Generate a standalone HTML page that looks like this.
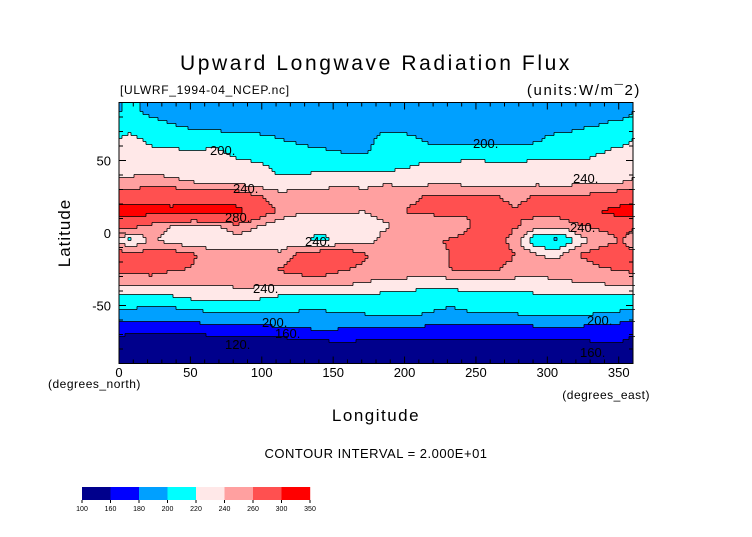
<!DOCTYPE html>
<html><head><meta charset="utf-8"><style>
body{margin:0;background:#fff;width:752px;height:532px;overflow:hidden;font-family:"Liberation Sans",sans-serif}
svg text{font-family:"Liberation Sans",sans-serif;fill:#000}
</style></head><body>
<svg id="chart" width="752" height="532" xmlns="http://www.w3.org/2000/svg">
<text x="376" y="70" font-size="21" text-anchor="middle" letter-spacing="2.6" font-weight="300">Upward Longwave Radiation Flux</text>
<text x="120" y="94" font-size="12" letter-spacing="0.7">[ULWRF_1994-04_NCEP.nc]</text>
<text x="641" y="95" font-size="15" text-anchor="end" letter-spacing="1.6">(units:W/m¯2)</text>
<g id="map"></g>
<g id="lines"></g>
<g id="axes"></g>
<text x="70" y="233" font-size="17" text-anchor="middle" transform="rotate(-90 70 233)" letter-spacing="1">Latitude</text>
<text x="48" y="388" font-size="12" letter-spacing="0.5">(degrees_north)</text>
<text x="376" y="421" font-size="17" text-anchor="middle" letter-spacing="1.5">Longitude</text>
<text x="650" y="399" font-size="12" text-anchor="end" letter-spacing="0.5">(degrees_east)</text>
<text x="376" y="458" font-size="13" text-anchor="middle" letter-spacing="0.5">CONTOUR INTERVAL = 2.000E+01</text>
<g id="cbar"></g>
</svg>
<script>
const levels=[100,160,180,200,220,240,260,300,350];
const colors=["#00008c","#0000ff","#00a0ff","#00ffff","#ffe8e8","#ffa0a0","#ff5050","#ff0000"];
const lats=[85,75,65,55,45,35,25,15,5,-5,-15,-25,-35,-45,-55,-65,-75,-85];
const lons=[];for(let i=0;i<24;i++)lons.push(7.5+15*i);
const xTicks=["0","50","100","150","200","250","300","350"];
const yTicks=["50","0","-50"];
const grid=[
[205,195,190,190,190,190,190,190,190,190,190,190,190,190,190,190,190,190,190,190,190,190,190,190],
[210,205,200,195,190,190,190,190,190,190,190,190,190,190,190,190,190,190,190,190,185,195,200,205],
[225,215,210,210,212,210,205,200,195,190,190,190,210,205,195,190,190,190,190,195,210,210,212,215],
[228,225,225,222,225,215,212,210,208,205,200,200,212,212,212,210,212,210,212,215,215,212,220,225],
[232,235,230,225,230,228,225,215,212,212,212,212,215,220,225,228,228,228,226,225,228,228,230,232],
[245,248,245,240,238,235,228,225,232,236,238,236,238,235,235,238,232,235,232,235,232,236,238,240],
[280,282,285,282,280,278,262,248,248,245,245,245,250,255,262,262,260,262,255,262,262,262,268,275],
[318,315,308,316,320,312,280,255,245,245,242,240,250,262,265,268,262,268,262,268,270,280,300,318],
[268,252,240,232,235,255,240,225,220,222,225,230,238,245,245,240,262,275,262,250,245,258,265,270],
[215,245,230,220,225,230,228,225,222,218,225,232,248,255,258,262,270,275,250,200,195,230,250,262],
[268,270,272,262,250,245,248,245,268,275,278,262,250,245,245,262,275,275,260,240,238,260,272,270],
[268,270,262,258,252,248,250,262,270,272,262,255,255,258,255,260,265,262,252,245,245,250,258,262],
[245,245,245,245,242,245,245,245,245,245,242,238,232,228,225,228,230,230,232,235,238,238,240,242],
[212,212,215,222,225,225,222,215,212,212,210,212,212,212,210,208,210,208,210,212,212,210,212,212],
[195,192,192,195,200,200,202,200,198,198,200,202,205,205,200,195,200,200,202,205,205,205,200,198],
[168,170,170,172,175,178,175,180,182,185,182,180,178,178,178,178,176,175,175,178,178,178,176,172],
[150,150,150,148,148,150,152,152,155,158,160,158,155,155,155,158,155,155,155,155,155,158,160,160],
[135,135,130,130,132,135,135,138,140,140,140,140,140,140,140,140,140,140,140,140,140,140,140,140]];
const NS="http://www.w3.org/2000/svg";
const X0=119,X1=633,Y0=102.5,Y1=363.5;
const xs=lon=>X0+(X1-X0)*lon/360, ys=lat=>Y0+(Y1-Y0)*(90-lat)/180;
const ilon=x=>(x-X0)/(X1-X0)*360, ilat=y=>90-(y-Y0)/(Y1-Y0)*180;
function mk(t,a,p){const e=document.createElementNS(NS,t);for(const k in a)e.setAttribute(k,a[k]);p.appendChild(e);return e;}
function val(lon,lat){
 let fi=(lon-lons[0])/15; fi=((fi%24)+24)%24;
 const i0=Math.floor(fi),i1=(i0+1)%24,tx=fi-i0;
 let fj=(lats[0]-lat)/10; fj=Math.max(0,Math.min(lats.length-1,fj));
 const j0=Math.floor(fj),j1=Math.min(lats.length-1,j0+1),ty=fj-j0;
 const a=grid[j0][i0]*(1-tx)+grid[j0][i1]*tx,b=grid[j1][i0]*(1-tx)+grid[j1][i1]*tx;
 return a*(1-ty)+b*ty;}
function lev(v){for(let k=levels.length-2;k>=0;k--)if(v>=levels[k])return k;return 0;}
const map=document.getElementById('map'),lines=document.getElementById('lines');
const S=3,nx=Math.ceil((X1-X0)/S),ny=Math.ceil((Y1-Y0)/S);
const L=[];
for(let r=0;r<ny;r++){L.push([]);for(let c=0;c<nx;c++)L[r].push(lev(val(ilon(X0+(c+.5)*S),ilat(Y0+(r+.5)*S))));}
for(let r=0;r<ny;r++){let c=0;while(c<nx){let e=c;while(e+1<nx&&L[r][e+1]===L[r][c])e++;
 const x=X0+c*S,y=Y0+r*S,w=Math.min(X1,X0+(e+1)*S)-x,h=Math.min(Y1,y+S)-y;
 const rc=mk('rect',{x:x,y:y,width:w+0.3,height:h+0.3,fill:colors[L[r][c]]},map);
 
 
 c=e+1;}}
let d="";
for(let r=0;r<ny;r++)for(let c=0;c<nx;c++){const x=X0+c*S,y=Y0+r*S;
 if(c>0&&L[r][c]!==L[r][c-1])d+=`M${x} ${y}v${S}`;
 if(r>0&&L[r][c]!==L[r-1][c])d+=`M${x} ${y}h${S}`;}
const pl=mk('path',{d:d,stroke:"#000",'stroke-width':0.8,fill:"none"},lines);


const ax=document.getElementById('axes');
const fr=mk('rect',{x:X0,y:Y0,width:X1-X0,height:Y1-Y0,fill:"none",stroke:"#000",'stroke-width':1},ax);


let td="";for(let lon=0;lon<=360;lon+=10){const x=xs(lon),len=lon%50===0?7:4;td+=`M${x} ${Y1}v${-len}M${x} ${Y0}v${len}`;}
for(let lat=-80;lat<=80;lat+=10){const y=ys(lat),len=lat%50===0?7:4;td+=`M${X0} ${y}h${len}M${X1} ${y}h${-len}`;}
mk('path',{d:td,stroke:"#000",'stroke-width':1},ax);
xTicks.forEach(t=>{const e=mk('text',{x:xs(+t),y:377,'font-size':13,'text-anchor':'middle'},ax);e.textContent=t;
 
 });
yTicks.forEach(t=>{const e=mk('text',{x:111,y:ys(+t)+5,'font-size':13,'text-anchor':'end'},ax);e.textContent=t;
 
 });
const cb=document.getElementById('cbar');const cx0=82,cw=28.5;
for(let k=0;k<colors.length;k++){const rc=mk('rect',{x:cx0+k*cw,y:487,width:cw+0.2,height:13,fill:colors[k]},cb);
 
 }
mk('path',{d:levels.map((l,k)=>`M${cx0+k*cw} 500v3`).join(''),stroke:"#000"},cb);
levels.forEach((l,k)=>{const e=mk('text',{x:cx0+k*cw,y:511,'font-size':7,'text-anchor':'middle'},cb);e.textContent=l;
 
 });
const labs=[["200.",210,155],["240.",233,193],["280.",225,222],["200.",473,148],["240.",573,183],["240.",570,232],["240.",305,246],["240.",253,293],["200.",262,327],["160.",275,338],["120.",225,349],["200.",587,325],["160.",580,357]];
labs.forEach(a=>{const e=mk('text',{x:a[1],y:a[2],'font-size':13},lines);e.textContent=a[0];
 
 });
</script>
</body></html>
